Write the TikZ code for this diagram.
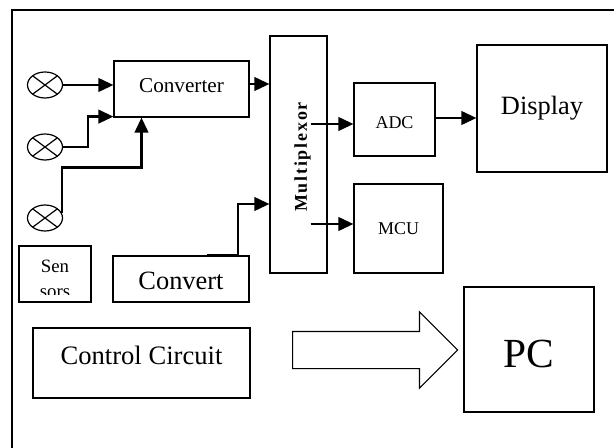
\documentclass[tikz,border=0pt]{standalone}
\usepackage{fontspec}
\setmainfont{Liberation Serif}
\usepackage{tikz}
\usetikzlibrary{positioning,shapes,arrows.meta,shapes.geometric,shapes.arrows}

\tikzset{
  blk/.style={draw, line width=0.6pt, inner sep=0pt},
  sensor/.style={draw, ellipse, line width=0.6pt, minimum width=17.5pt, minimum height=13pt, inner sep=0pt,
    path picture={\draw[line width=0.6pt] (path picture bounding box.north west) -- (path picture bounding box.south east)
      (path picture bounding box.north east) -- (path picture bounding box.south west);}},
  arr/.style={line width=1.1pt, -{Triangle[length=7.5pt,width=6.8pt]}},
  bigarr/.style={single arrow, draw, line width=0.6pt, minimum height=82.5pt,
    single arrow head extend=9.75pt, single arrow head indent=0pt, inner xsep=0pt, inner ysep=9pt}
}

\begin{document}
\begin{tikzpicture}[x=0.5pt,y=-0.5pt]
\useasboundingbox (0,0) rectangle (614,448);
\draw[line width=0.8pt] (12,460) |- (630,10);

% sensors
\node[sensor] (s1) at (45,85) {};
\node[sensor] (s2) at (45,147) {};
\node[sensor] (s3) at (45,218) {};

% blocks
\node[blk, minimum width=67.5pt, minimum height=28pt, font=\fontsize{10.6}{12}\selectfont, text depth=4pt] (conv) at (181.5,89) {Converter};
\node[blk, minimum width=28.5pt, minimum height=118.5pt,
  label={[xshift=2pt, yshift=-1.25pt, rotate=90, font=\fontsize{9}{10}\selectfont\bfseries\addfontfeature{LetterSpace=10}]center:Multiplexor}] (mux) at (298.5,154.5) {};
\node[blk, minimum width=40.5pt, minimum height=36.5pt, font=\fontsize{9}{10}\selectfont, text height=9.5pt] (adc) at (394.5,119.5) {ADC};
\node[blk, minimum width=65pt, minimum height=63.5pt, font=\fontsize{13.2}{15}\selectfont] (disp) at (542,108.5) {Display};
\node[blk, minimum width=44.5pt, minimum height=44.5pt, font=\fontsize{9}{10}\selectfont] (mcu) at (398.5,228.5) {MCU};
\node[blk, minimum width=36pt, minimum height=28pt] (sens) at (55,274) {};
\begin{scope}
  \clip ([yshift=4pt]sens.south west) rectangle (sens.north east);
  \node[font=\fontsize{9.4}{12.5}\selectfont, align=center, inner sep=0pt, anchor=north] (senstxt) at ([yshift=-7pt]sens.north) {Sen\\sors};
\end{scope}
\node[blk, minimum width=68pt, minimum height=23pt, font=\fontsize{13.2}{15}\selectfont, text height=10.2pt] (convt) at (181,279) {Convert};
\node[blk, minimum width=108.5pt, minimum height=35pt, font=\fontsize{13.3}{15}\selectfont, text depth=8pt] (ctrl) at (141.5,363) {Control Circuit};
\node[blk, minimum width=65pt, minimum height=62.5pt, font=\fontsize{20.7}{24}\selectfont, text height=18.2pt] (pc) at (529,349.5) {PC};
\node[bigarr, anchor=tail] (link) at (292,350) {};

% connectors
\draw[arr] (s1) -- (s1 -| conv.west);
\draw[arr] (s2.east) -- ++(25,0) |- ([yshift=0.5pt]conv.south west);
\draw[arr] (s3.15) -- ++(0,-46) -| ([xshift=-20pt]conv.south);
\draw[arr] ([yshift=2.5pt]conv.east) -- ([yshift=2.5pt]conv.east -| mux.west);
\draw[arr] ([xshift=13pt]convt.north) -- ([xshift=28.5pt]convt.north) |- ([yshift=-24.75pt]mux.west);
\draw[arr] ([xshift=-8.5pt,yshift=-2.25pt]adc.west -| mux.east) -- ([yshift=-2.25pt]adc.west);
\draw[arr] ([yshift=0.75pt]adc.east) -- ([yshift=0.75pt]adc.east -| disp.west);
\draw[arr] ([xshift=-8.5pt,yshift=2.25pt]mcu.west -| mux.east) -- ([yshift=2.25pt]mcu.west);
\end{tikzpicture}
\end{document}
